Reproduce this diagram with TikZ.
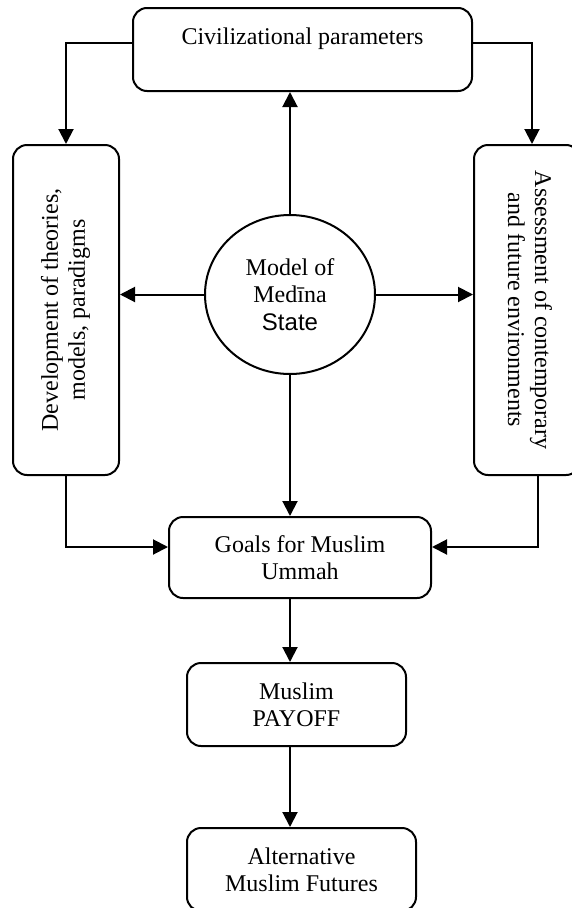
\documentclass[tikz,border=0pt]{standalone}
\usepackage{fontspec}
\setmainfont{Liberation Serif}
\newfontfamily\statefont{Liberation Sans}
\usetikzlibrary{arrows.meta,shapes.geometric,calc}
\tikzset{ % common looks
	box/.style={draw, rounded corners=14pt, line width=2pt, align=center, inner sep=0pt,
		font=\fontsize{24}{27}\selectfont},
	link/.style={line width=2pt, -{Triangle[width=15pt,length=15pt]}},
}

\begin{document}
\begin{tikzpicture}[x=1pt,y=-1pt]
			\useasboundingbox (0,0) rectangle (571,908);
			% Top box
			\node[box,minimum width=339pt,minimum height=83pt] (civ) at (302.5,49.5) {Civilizational parameters\\ ~};
			% Side boxes
			\node[box,minimum width=106pt,minimum height=330pt] (dev) at (66,310) {\rotatebox{90}{\begin{tabular}{@{}c@{}}Development of theories,\\ models, paradigms\end{tabular}}};
			\node[box,minimum width=106pt,minimum height=330pt] (assess) at (527,310) {\rotatebox{-90}{\begin{tabular}{@{}c@{}}Assessment of contemporary\\ and future environments\end{tabular}}};
			% Centre
			\node[draw,ellipse,line width=2pt,minimum width=170pt,minimum height=159pt,inner sep=0pt,align=center,
				font=\fontsize{24}{27.5}\selectfont] (med) at (290,294.5) {Model of\\ Medīna\\ {\statefont State}};
			% Lower boxes
			\node[box,minimum width=262pt,minimum height=81pt] (goals) at (300,557.5) {Goals for Muslim\\ Ummah};
			\node[box,minimum width=219pt,minimum height=83pt] (payoff) at (296.5,704.5) {Muslim\\ PAYOFF};
			\node[box,minimum width=229pt,minimum height=83pt] (alt) at (301.5,869.5) {Alternative\\ Muslim Futures};
			% Arrows out of the centre
			\draw[link] (med.north) -- (med.north |- civ.south);
			\draw[link] (med.west) -- (med.west -| dev.east);
			\draw[link] (med.east) -- (med.east -| assess.west);
			\draw[link] (med.south) -- (med.south |- goals.north);
			% Arrows round the sides
			\draw[link] ($(civ.west)+(0,-6.5)$) -| (dev.north);
			\draw[link] ($(civ.east)+(0,-6.5)$) -| ($(assess.north)+(5,0)$);
			\draw[link] (dev.south) |- ($(goals.west)+(0,-10.5)$);
			\draw[link] ($(assess.south)+(11,0)$) |- ($(goals.east)+(0,-10.5)$);
			% Down the middle
			\draw[link] (med.south |- goals.south) -- (med.south |- payoff.north);
			\draw[link] (med.south |- payoff.south) -- (med.south |- alt.north);
\end{tikzpicture}
\end{document}
